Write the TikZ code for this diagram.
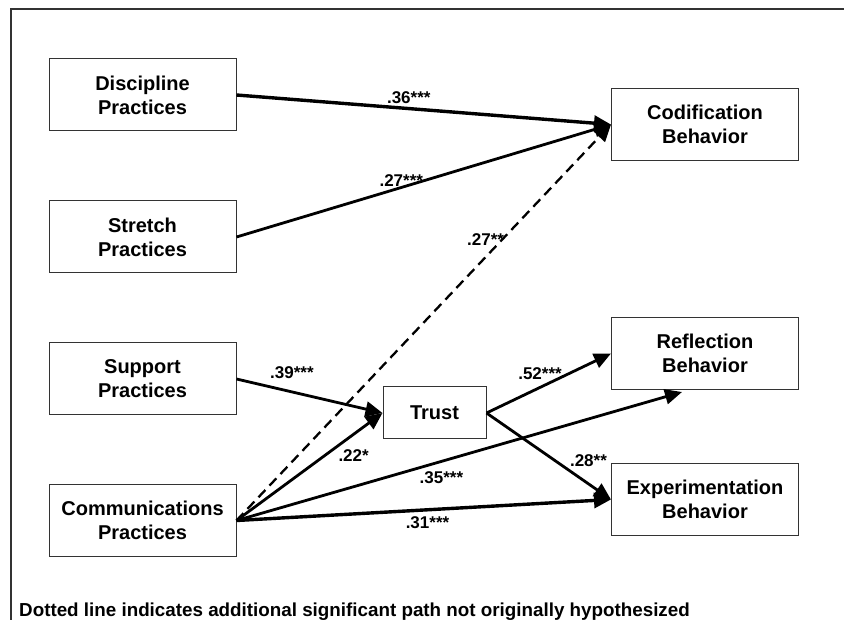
\documentclass[tikz,border=0pt]{standalone}
\usepackage{fontspec}
\setmainfont{Liberation Sans}
\usetikzlibrary{arrows.meta,calc}
\begin{document}
\begin{tikzpicture}[x=1pt,y=-1pt,
  box/.style={draw=black!80, line width=1pt, minimum width=187pt, minimum height=72pt, inner sep=0pt, align=center, font=\fontsize{20}{24}\selectfont\bfseries},
  conn/.style={line width=2.8pt, -{Triangle[length=17pt,width=15pt]}},
  heavy/.style={conn, line width=3.4pt},
  hyp/.style={conn, line width=2.3pt, dash pattern=on 10pt off 6pt},
  lab/.style={font=\fontsize{17}{20}\selectfont\bfseries, inner sep=1pt},
  frameline/.style={draw=black!80, line width=1.2pt},
]
\useasboundingbox (0,0) rectangle (844,620);
\draw[frameline] (11,620) -- (11,9) -- (844,9);

\node[box] (disc) at (142.5,95) {Discipline\\Practices};
\node[box] (str) at (142.5,237) {Stretch\\Practices};
\node[box] (sup) at (142.5,379) {Support\\Practices};
\node[box] (com) at (142.5,520.5) {Communications\\Practices};
\node[box] (cod) at (705,124.5) {Codification\\Behavior};
\node[box] (ref) at (705,353.5) {Reflection\\Behavior};
\node[box] (exp) at (705,499.5) {Experimentation\\Behavior};
\node[box, minimum width=103pt, minimum height=52pt] (tru) at (434.5,413) {Trust};
\coordinate (rtip) at ([xshift=-23pt,yshift=-2pt]ref.south);

\draw[heavy] (disc.east) -- node[lab, pos=0.46, above=2pt] (l1) {.36***} (cod.west);
\draw[conn] (str.east) -- node[lab, pos=0.44, above=0pt, yshift=-1pt] (l2) {.27***} (cod.west);
\draw[hyp] (com.east) -- node[lab, pos=0.72, left=2pt, xshift=2pt, yshift=-4pt] (l3) {.27**} (cod.west);
\draw[conn] (sup.east) -- node[lab, pos=0.38, above=11pt] (l4) {.39***} (tru.west);
\draw[conn] (com.east) -- node[lab, pos=0.6, anchor=west, xshift=12pt] (l5) {.22*} (tru.west);
\draw[conn] (tru.east) -- node[lab, pos=0.43, anchor=south, yshift=5pt] (l6) {.52***} (ref.west);
\draw[conn] (tru.east) -- node[lab, pos=0.7, anchor=south west, xshift=-6pt, yshift=4pt] (l7) {.28**} (exp.west);
\draw[conn] (com.east) -- node[lab, pos=0.46, below=8pt] (l8) {.35***} (rtip);
\draw[heavy] (com.east) -- node[lab, pos=0.51, below=4pt] (l9) {.31***} (exp.west);

\node[anchor=base west, font=\fontsize{18.8}{22}\selectfont\bfseries, inner sep=0pt] (cap) at (19,616) {Dotted line indicates additional significant path not originally hypothesized};
\end{tikzpicture}
\end{document}
